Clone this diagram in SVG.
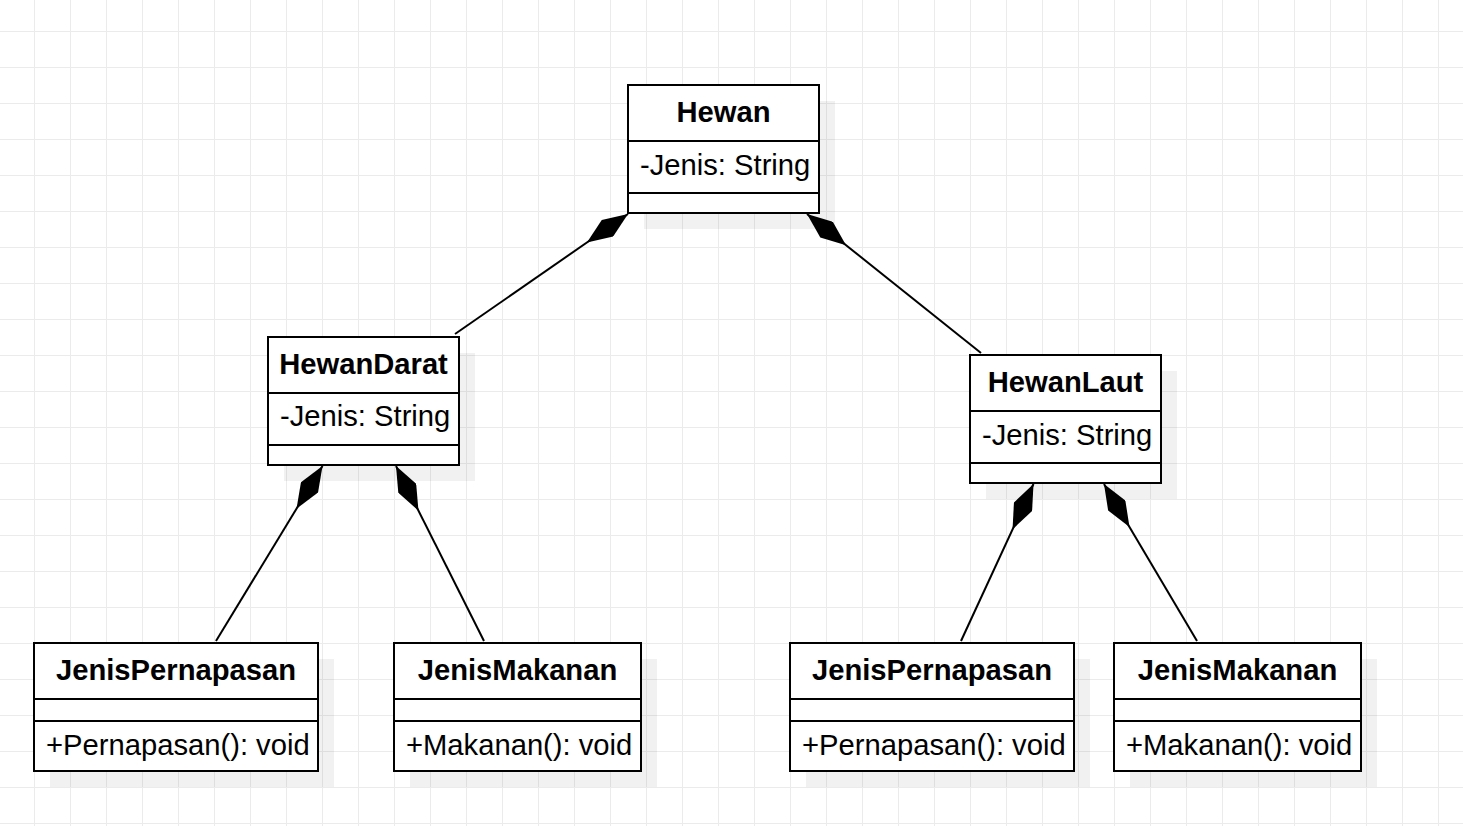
<svg xmlns="http://www.w3.org/2000/svg" width="1463" height="826" viewBox="0 0 1463 826">
  <style>
    .box { fill: #ffffff; stroke: #000000; stroke-width: 2; }
    .shadow { fill: #000000; fill-opacity: 0.055; }
    .div { stroke: #000000; stroke-width: 2; }
    .title { font-family: "Liberation Sans", Arial, sans-serif; font-size: 29.2px; font-weight: bold; fill: #000000; text-anchor: middle; }
    .member { font-family: "Liberation Sans", Arial, sans-serif; font-size: 29.2px; fill: #000000; }
    .conn { stroke: #000000; stroke-width: 2; fill: none; marker-end: url(#diamond); }
  </style>
  <defs>
    <pattern id="grid" patternUnits="userSpaceOnUse" x="34" y="31" width="36" height="36">
      <path d="M0 0.5 H36 M0.5 0 V36" stroke="#ebebeb" stroke-width="1" fill="none"/>
    </pattern>
    <marker id="diamond" viewBox="0 0 50 20" refX="50" refY="10" markerWidth="50" markerHeight="20" markerUnits="userSpaceOnUse" orient="auto">
      <path d="M0 10 L25 0 L50 10 L25 20 Z" fill="#000000"/>
    </marker>
  </defs>
  <rect x="0" y="0" width="1463" height="826" fill="#ffffff"/>
  <rect x="0" y="0" width="1463" height="826" fill="url(#grid)"/>

  <g id="connectors">
    <line class="conn" x1="455" y1="334" x2="628" y2="214"/>
    <line class="conn" x1="981" y1="353" x2="807" y2="214"/>
    <line class="conn" x1="216" y1="641" x2="322.5" y2="466"/>
    <line class="conn" x1="484" y1="641" x2="396" y2="466"/>
    <line class="conn" x1="961" y1="641" x2="1033.5" y2="484"/>
    <line class="conn" x1="1197" y1="641" x2="1104" y2="484"/>
  </g>

  <g id="Hewan">
    <rect class="shadow" x="644" y="101" width="191" height="128"/>
    <rect class="box" x="628" y="85" width="191" height="128"/>
    <line class="div" x1="628" y1="141" x2="819" y2="141"/>
    <line class="div" x1="628" y1="193" x2="819" y2="193"/>
    <text class="title" x="723.5" y="122">Hewan</text>
    <text class="member" x="640" y="175">-Jenis: String</text>
  </g>

  <g id="HewanDarat">
    <rect class="shadow" x="284" y="353" width="191" height="128"/>
    <rect class="box" x="268" y="337" width="191" height="128"/>
    <line class="div" x1="268" y1="393" x2="459" y2="393"/>
    <line class="div" x1="268" y1="445" x2="459" y2="445"/>
    <text class="title" x="363.5" y="374">HewanDarat</text>
    <text class="member" x="280" y="426">-Jenis: String</text>
  </g>

  <g id="HewanLaut">
    <rect class="shadow" x="986" y="371" width="191" height="128"/>
    <rect class="box" x="970" y="355" width="191" height="128"/>
    <line class="div" x1="970" y1="411" x2="1161" y2="411"/>
    <line class="div" x1="970" y1="463" x2="1161" y2="463"/>
    <text class="title" x="1065.5" y="392">HewanLaut</text>
    <text class="member" x="982" y="444.5">-Jenis: String</text>
  </g>

  <g id="JenisPernapasan1">
    <rect class="shadow" x="50" y="659" width="284" height="128"/>
    <rect class="box" x="34" y="643" width="284" height="128"/>
    <line class="div" x1="34" y1="699" x2="318" y2="699"/>
    <line class="div" x1="34" y1="721" x2="318" y2="721"/>
    <text class="title" x="176" y="680">JenisPernapasan</text>
    <text class="member" x="46" y="754.5">+Pernapasan(): void</text>
  </g>

  <g id="JenisMakanan1">
    <rect class="shadow" x="410" y="659" width="247" height="128"/>
    <rect class="box" x="394" y="643" width="247" height="128"/>
    <line class="div" x1="394" y1="699" x2="641" y2="699"/>
    <line class="div" x1="394" y1="721" x2="641" y2="721"/>
    <text class="title" x="517.5" y="680">JenisMakanan</text>
    <text class="member" x="406" y="754.5">+Makanan(): void</text>
  </g>

  <g id="JenisPernapasan2">
    <rect class="shadow" x="806" y="659" width="284" height="128"/>
    <rect class="box" x="790" y="643" width="284" height="128"/>
    <line class="div" x1="790" y1="699" x2="1074" y2="699"/>
    <line class="div" x1="790" y1="721" x2="1074" y2="721"/>
    <text class="title" x="932" y="680">JenisPernapasan</text>
    <text class="member" x="802" y="754.5">+Pernapasan(): void</text>
  </g>

  <g id="JenisMakanan2">
    <rect class="shadow" x="1130" y="659" width="247" height="128"/>
    <rect class="box" x="1114" y="643" width="247" height="128"/>
    <line class="div" x1="1114" y1="699" x2="1361" y2="699"/>
    <line class="div" x1="1114" y1="721" x2="1361" y2="721"/>
    <text class="title" x="1237.5" y="680">JenisMakanan</text>
    <text class="member" x="1126" y="754.5">+Makanan(): void</text>
  </g>
</svg>
